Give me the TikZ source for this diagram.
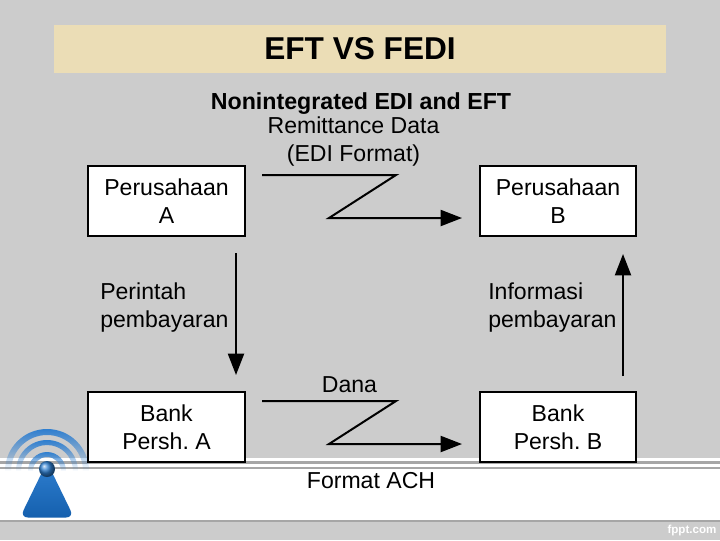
\documentclass[tikz,border=0pt]{standalone}
\usepackage{fontspec}
\setmainfont{Liberation Sans}
\frenchspacing
\usepackage{tikz}
\usetikzlibrary{calc,arrows.meta,positioning,fadings}
\definecolor{slidegray}{HTML}{CCCCCC}
\definecolor{paper}{HTML}{EBDDB6}
\definecolor{stripe}{HTML}{A6A6A6}
\definecolor{wifi}{HTML}{2F7FD0}
\definecolor{wifidark}{HTML}{1560AE}
\tikzfading[name=wavefade,top color=transparent!0,middle color=transparent!0,bottom color=transparent!100]
\tikzstyle{firm node}=[draw,line width=1.5pt,fill=white,minimum width=117.5pt,minimum height=52.5pt,inner sep=0pt,align=center,font=\fontsize{17.3}{21}\selectfont]
\tikzstyle{tag node}=[inner sep=0pt,align=left,font=\fontsize{17.3}{21}\selectfont]
\tikzstyle{flow}=[line width=1.5pt,-{Triangle[length=16pt,width=12pt]},line join=miter]
\tikzstyle{wave}=[fill=wifi,path fading=wavefade]
\begin{document}
\begin{tikzpicture}[x=0.75pt,y=-0.75pt]
		\useasboundingbox (0,0) rectangle (720,540);
		\fill[slidegray] (0,0) rectangle (720,540);
		\fill[paper] (54,25) rectangle (666,73);
		% bottom band
		\fill[white] (0,458) rectangle (720,461);
		\fill[stripe] (0,461) rectangle (720,463.5);
		\fill[white] (0,463.5) rectangle (720,466.5);
		\fill[stripe] (0,466.5) rectangle (720,468.5);
		\fill[white] (0,468.5) rectangle (720,520);
		\fill[stripe] (0,520) rectangle (720,522);
		% icon
		\foreach \inner/\outer in {36/42,26/31,14/19}{
			\fill[wave] (47-\outer,471) arc (180:360:\outer) -- (47+\inner,471) arc (360:180:\inner) -- cycle;
		}
		\shade[top color=wifi,bottom color=wifidark,rounded corners=6pt] (47,462) -- (74,517.5) -- (20,517.5) -- cycle;
		\shade[ball color=wifi] (47,469) circle (8);
		% title
		\node(title) at (360,49) [inner sep=0pt,font=\fontsize{23.7}{28}\selectfont\bfseries]{EFT VS FEDI};
		\node(heading) at (361,104) [inner sep=0pt,font=\fontsize{17.4}{20}\selectfont\bfseries]{Nonintegrated EDI and EFT};
		% boxes
		\node(firma)[firm node] at (166.5,201){Perusahaan\\A};
		\node(firmb)[firm node] at (558,201){Perusahaan\\B};
		\node(banka)[firm node] at (166.5,427){Bank\\Persh. A};
		\node(bankb)[firm node] at (558,427){Bank\\Persh. B};
		% labels
		\node(remit)[tag node,align=center] at (353.5,142){Remittance Data\\(EDI Format)};
		\node(order)[tag node,anchor=west] at (100,308){Perintah\\pembayaran};
		\node(info)[tag node,anchor=west] at (488,308){Informasi\\pembayaran};
		\node(fund)[tag node] at (349.5,385){Dana};
		\node(ach)[tag node] at (371,481){Format ACH};
		\node(fppt)[inner sep=0pt,text=white,font=\fontsize{8.7}{11}\selectfont\bfseries] at (692,530){fppt.com};
		% connectors
		\coordinate(r1) at (262,175);
		\coordinate(r2) at (396,175);
		\coordinate(r3) at (329,218);
		\coordinate(r4) at (462,218);
		\draw[flow] (r1) -- (r2) -- (r3) -- (r4);
		\coordinate(d1) at (262,401);
		\coordinate(d2) at (396,401);
		\coordinate(d3) at (329,444);
		\coordinate(d4) at (462,444);
		\draw[flow] (d1) -- (d2) -- (d3) -- (d4);
		\coordinate(p1) at (236,253);
		\coordinate(p2) at (236,375);
		\draw[flow] (p1) -- (p2);
		\coordinate(q1) at (623,376);
		\coordinate(q2) at (623,254);
		\draw[flow] (q1) -- (q2);
\end{tikzpicture}
\end{document}
